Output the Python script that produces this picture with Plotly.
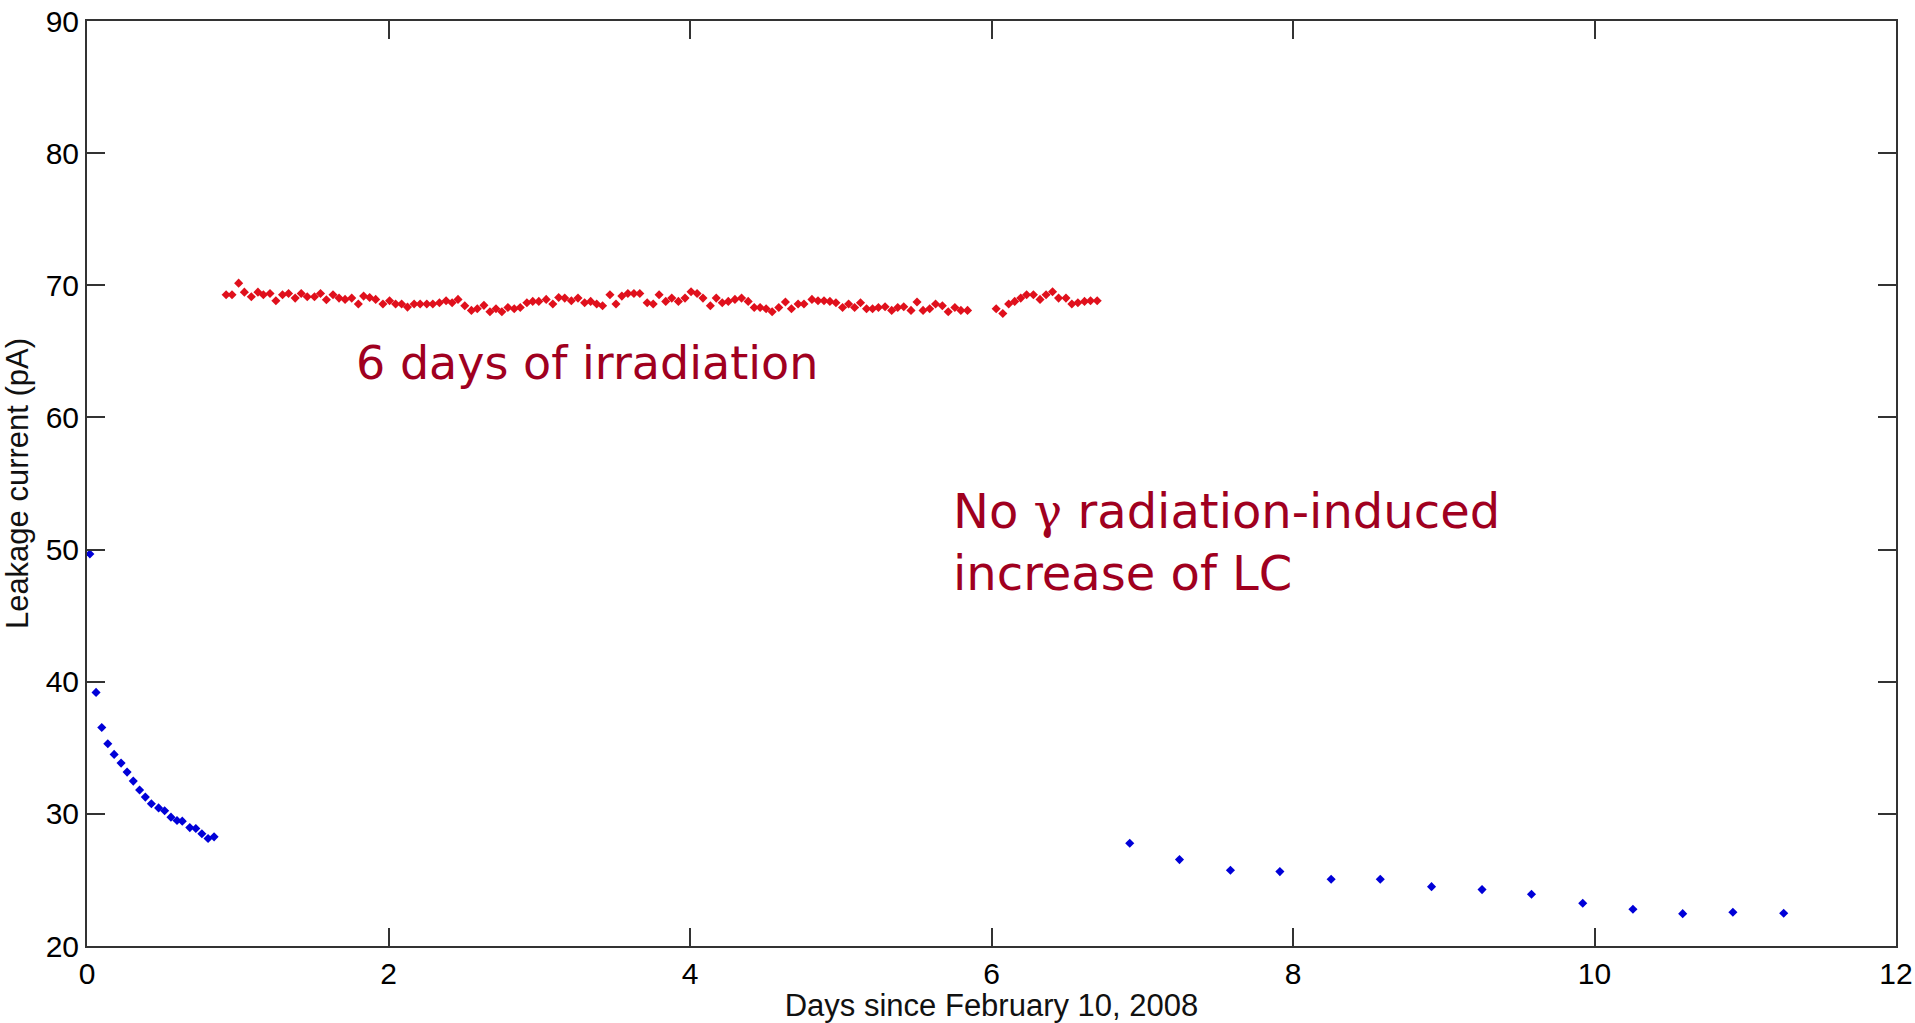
import plotly.graph_objects as go

# Blue series: before irradiation (days, pA)
blue_early_days = [0.019, 0.060, 0.098, 0.138, 0.180, 0.226, 0.266, 0.307, 0.349, 0.387,
                   0.427, 0.475, 0.515, 0.557, 0.597, 0.632, 0.682, 0.722, 0.762, 0.803, 0.843]
blue_early_pa = [49.67, 39.19, 36.54, 35.30, 34.50, 33.84, 33.16, 32.48, 31.80, 31.27,
                 30.76, 30.45, 30.23, 29.75, 29.50, 29.45, 28.96, 28.89, 28.50, 28.13, 28.26]

# Blue series: after irradiation
blue_late_days = [6.917, 7.247, 7.585, 7.913, 8.253, 8.579, 8.919, 9.254, 9.582, 9.922,
                  10.255, 10.585, 10.918, 11.255]
blue_late_pa = [27.78, 26.54, 25.73, 25.63, 25.05, 25.05, 24.49, 24.27, 23.92, 23.23,
                22.78, 22.45, 22.55, 22.48]

# Red series: during irradiation
red_days = [
    0.923, 0.962, 1.006, 1.044, 1.090, 1.134, 1.170, 1.214, 1.253, 1.297,
    1.337, 1.381, 1.421, 1.461, 1.509, 1.549, 1.588, 1.632, 1.672, 1.712,
    1.756, 1.800, 1.835, 1.875, 1.915, 1.963, 2.007, 2.047, 2.087, 2.126,
    2.170, 2.210, 2.254, 2.294, 2.338, 2.382, 2.422, 2.461, 2.506, 2.550,
    2.589, 2.633, 2.673, 2.713, 2.752, 2.792,
    2.834, 2.874, 2.918, 2.957, 2.997, 3.046, 3.090, 3.129, 3.169, 3.213,
    3.257, 3.301, 3.341, 3.381, 3.420, 3.469, 3.509, 3.548, 3.588, 3.628,
    3.667, 3.716, 3.756, 3.795, 3.839, 3.879, 3.923, 3.967, 4.007, 4.047,
    4.086, 4.135, 4.174, 4.214, 4.254, 4.298, 4.342, 4.386, 4.426, 4.465,
    4.505, 4.545, 4.589, 4.633, 4.673, 4.717, 4.756,
    4.809, 4.849, 4.889, 4.928, 4.968, 5.012, 5.052, 5.092, 5.131, 5.171,
    5.211, 5.250, 5.294, 5.338, 5.378, 5.418, 5.466, 5.506, 5.546, 5.590,
    5.629, 5.674, 5.713, 5.757, 5.797, 5.841,
    None,
    6.031, 6.075, 6.114, 6.154, 6.194, 6.233, 6.278, 6.322, 6.362, 6.405,
    6.445, 6.494, 6.533, 6.573, 6.617, 6.657, 6.701,
]
red_pa = [
    69.28, 69.28, 70.16, 69.48, 69.13, 69.48, 69.28, 69.38, 68.83, 69.28,
    69.38, 69.03, 69.38, 69.13, 69.13, 69.38, 68.90, 69.28, 69.03, 68.93,
    69.03, 68.58, 69.18, 69.08, 68.93, 68.58, 68.83, 68.58, 68.58, 68.35,
    68.58, 68.58, 68.58, 68.58, 68.68, 68.83, 68.68, 68.93, 68.45, 68.10,
    68.22, 68.48, 68.00, 68.22, 68.00, 68.32,
    68.22, 68.32, 68.68, 68.78, 68.78, 68.93, 68.58, 69.08, 69.03, 68.83,
    69.03, 68.68, 68.78, 68.58, 68.45, 69.28, 68.58, 69.18, 69.38, 69.38,
    69.38, 68.68, 68.58, 69.28, 68.78, 69.03, 68.78, 69.03, 69.51, 69.38,
    69.03, 68.45, 69.03, 68.68, 68.78, 68.93, 69.03, 68.78, 68.32, 68.32,
    68.22, 68.00, 68.32, 68.73, 68.22, 68.58, 68.58,
    68.93, 68.83, 68.83, 68.78, 68.68, 68.32, 68.58, 68.32, 68.68, 68.22,
    68.22, 68.32, 68.37, 68.10, 68.32, 68.37, 68.10, 68.73, 68.10, 68.22,
    68.58, 68.45, 68.00, 68.32, 68.10, 68.10,
    None,
    68.22, 67.87, 68.58, 68.78, 69.03, 69.28, 69.28, 68.93, 69.28, 69.51,
    69.03, 69.03, 68.58, 68.68, 68.78, 68.83, 68.83,
]

x_ticks = [0, 2, 4, 6, 8, 10, 12]
y_ticks = [20, 30, 40, 50, 60, 70, 80, 90]

BLUE = "#0000D8"
RED = "#E0101C"
TEXT_RED = "#A0001F"

fig = go.Figure()
marker_style = dict(symbol="diamond", size=7, line=dict(width=0))
fig.add_trace(go.Scatter(x=blue_early_days, y=blue_early_pa, mode="markers",
                         marker=dict(color=BLUE, **marker_style), showlegend=False))
fig.add_trace(go.Scatter(x=red_days, y=red_pa, mode="markers",
                         marker=dict(color=RED, **marker_style), showlegend=False))
fig.add_trace(go.Scatter(x=blue_late_days, y=blue_late_pa, mode="markers",
                         marker=dict(color=BLUE, **marker_style), showlegend=False))

tick_font = dict(family="Liberation Sans, Arial, sans-serif", size=30, color="black")
title_font = dict(family="Liberation Sans, Arial, sans-serif", size=31, color="#111")

fig.update_xaxes(range=[0, 12], tickvals=x_ticks, ticks="inside", ticklen=18, tickwidth=2,
                 tickcolor="#333", showline=True, linecolor="#333", linewidth=2, mirror="ticks",
                 showgrid=False, zeroline=False, tickfont=tick_font, automargin=False,
                 ticklabeloverflow="allow",
                 title=dict(text="Days since February 10, 2008", font=title_font, standoff=6))
fig.update_yaxes(range=[20, 90], tickvals=y_ticks, ticks="inside", ticklen=18, tickwidth=2,
                 tickcolor="#333", showline=True, linecolor="#333", linewidth=2, mirror="ticks",
                 showgrid=False, zeroline=False, tickfont=tick_font, automargin=False,
                 ticklabeloverflow="allow",
                 title=dict(text="Leakage current (pA)", font=title_font, standoff=8))

fig.add_annotation(x=1.77, y=64.1, xref="x", yref="y", text="6 days of irradiation",
                   showarrow=False, xanchor="left", yanchor="middle",
                   font=dict(family="DejaVu Sans, sans-serif", size=46, color=TEXT_RED))
fig.add_annotation(x=5.73, y=50.6, xref="x", yref="y",
                   text="No <span style=\"font-family:'DejaVu Serif'\">γ</span> radiation-induced<br>increase of LC",
                   showarrow=False, xanchor="left", yanchor="middle", align="left",
                   font=dict(family="DejaVu Sans, sans-serif", size=48, color=TEXT_RED))

fig.update_layout(width=1915, height=1023, margin=dict(l=87, r=19, t=21, b=77),
                  plot_bgcolor="white", paper_bgcolor="white")

fig.write_html("out.html")
